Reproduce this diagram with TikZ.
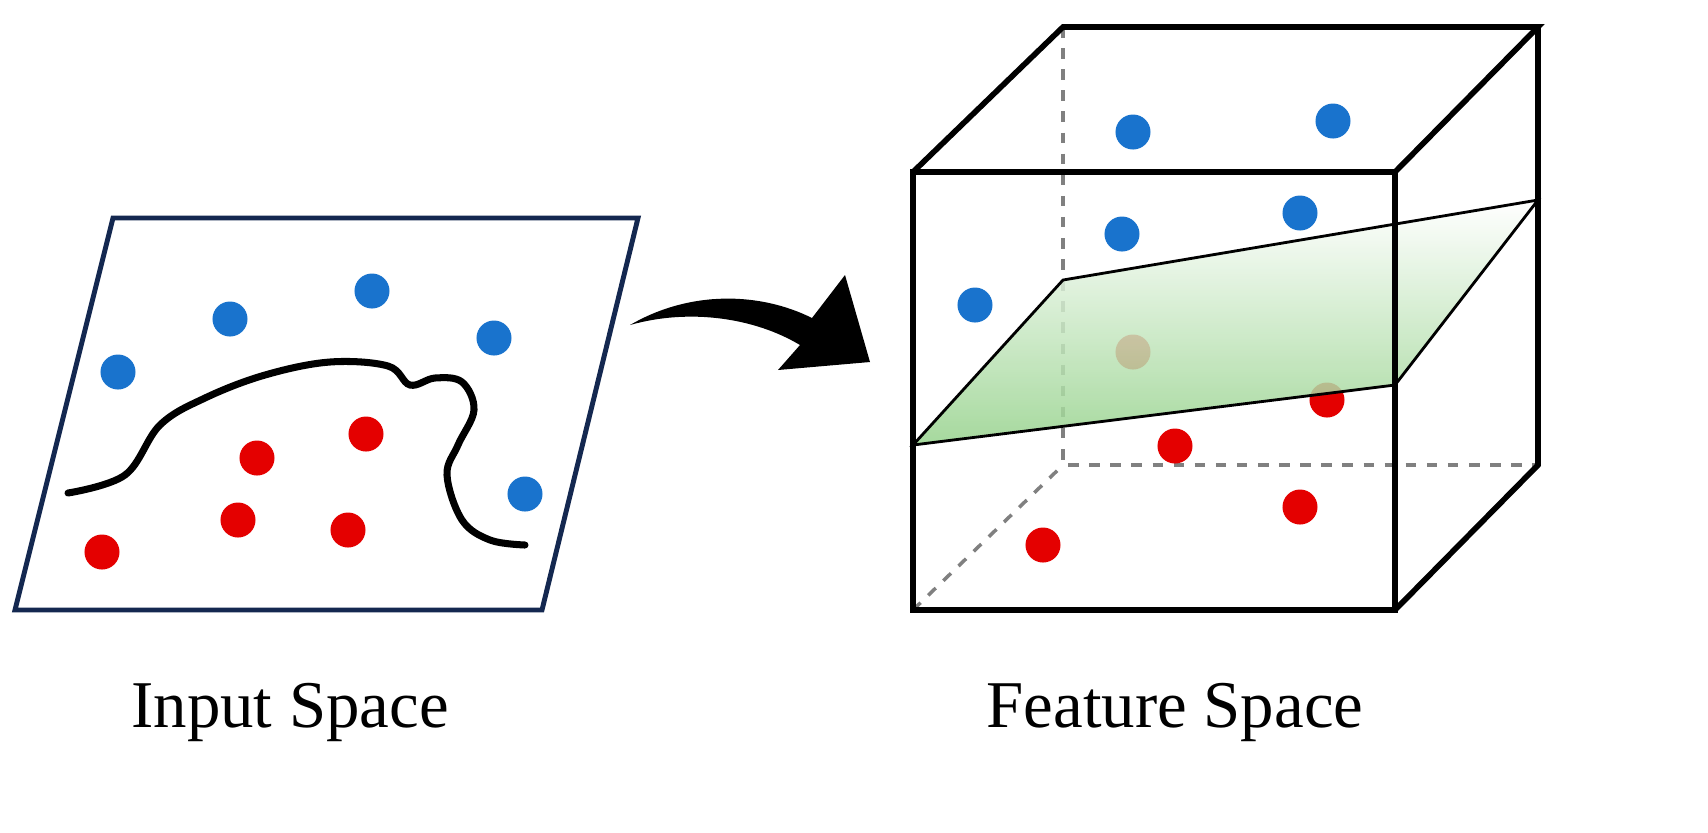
\documentclass[tikz,border=0pt]{standalone}
\usepackage{fontspec}
\setmainfont{Liberation Serif}
\definecolor{navy}{RGB}{20,40,80}
\definecolor{bluedot}{RGB}{25,115,205}
\definecolor{reddot}{RGB}{228,0,0}
\definecolor{planegreen}{RGB}{150,210,140}
\begin{document}
\begin{tikzpicture}[x=0.01cm,y=-0.01cm,
  dotb/.style={circle,fill=bluedot,minimum size=0.35cm,inner sep=0},
  dotr/.style={circle,fill=reddot,minimum size=0.35cm,inner sep=0},
  edge/.style={line width=1.6pt},
  hid/.style={dashed,gray,line width=1pt},
  lbl/.style={font=\fontsize{19}{22}\selectfont}]
\useasboundingbox (0,0) rectangle (1708,832);
% input space
\draw[line width=1.4pt,navy] (113,218) -- (638,218) -- (542,610) -- (15,610) -- cycle;
\foreach \p/\n in {(118,372)/b1,(230,319)/b2,(372,291)/b3,(494,338)/b4,(525,494)/b5} \node[dotb] (\n) at \p {};
\foreach \p/\n in {(102,552)/r1,(238,520)/r2,(348,530)/r3,(257,458)/r4,(366,434)/r5} \node[dotr] (\n) at \p {};
\draw[line width=2pt,line cap=round] plot[smooth,tension=0.6] coordinates {(68,493) (125,475) (160,425) (205,398) (265,375) (330,362) (388,366) (410,385) (435,378) (462,382) (474,410) (458,445) (447,475) (462,520) (490,540) (525,545)};
% arrow
\fill (630,325) .. controls (690,290) and (760,292) .. (812,318) -- (845,275) -- (870,362) -- (778,370) -- (800,345) .. controls (755,318) and (690,308) .. (630,325) -- cycle;
% cube hidden edges
\draw[hid] (1063,27) -- (1063,465) -- (1538,465);
\draw[hid] (913,610) -- (1063,465);
% dots in cube
\foreach \p/\n in {(1133,132)/c1,(1333,121)/c2,(1122,234)/c3,(1300,213)/c4,(975,305)/c5} \node[dotb] (\n) at \p {};
\foreach \p/\n in {(1043,545)/d1,(1175,446)/d2,(1300,507)/d3,(1327,400)/d4} \node[dotr] (\n) at \p {};
\node[dotr] (d5) at (1133,352) {};
% plane
\shade[top color=white,bottom color=planegreen,opacity=0.85] (913,445) -- (1063,280) -- (1538,200) -- (1395,385) -- cycle;
\draw[line width=0.8pt] (913,445) -- (1063,280) -- (1538,200) -- (1395,385) -- cycle;
% cube visible edges
\draw[edge] (913,172) rectangle (1395,610);
\draw[edge] (913,172) -- (1063,27) -- (1538,27) -- (1395,172);
\draw[edge] (1538,27) -- (1538,465) -- (1395,610);
% labels
\node[lbl] (l1) at (290,712) {Input Space};
\node[lbl] (l2) at (1175,712) {Feature Space};
\end{tikzpicture}
\end{document}
